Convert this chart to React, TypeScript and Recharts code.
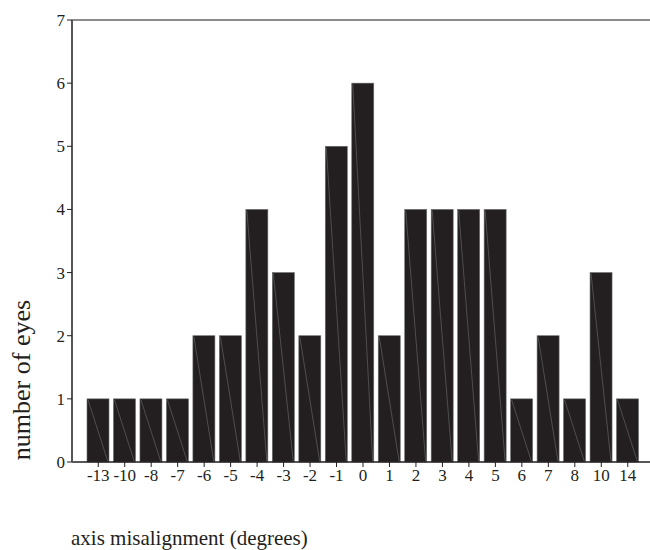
import React from 'react';
import { BarChart, Bar, XAxis, YAxis, ReferenceLine, Label } from 'recharts';

// misalignment categories (degrees) and eye counts
const angles = ['-13', '-10', '-8', '-7', '-6', '-5', '-4', '-3', '-2', '-1', '0', '1', '2', '3', '4', '5', '6', '7', '8', '10', '14'];
const eyes = [1, 1, 1, 1, 2, 2, 4, 3, 2, 5, 6, 2, 4, 4, 4, 4, 1, 2, 1, 3, 1];
const yTicks = [0, 1, 2, 3, 4, 5, 6, 7];

const chartData = angles.map((a, i) => ({ angle: a, count: eyes[i] }));

const FONT = '"Liberation Serif", "DejaVu Serif", serif';
const BAR_FILL = '#231f20';

// bar with the faint diagonal seam seen in the scanned figure
const SeamBar = (props: any) => {
  const { x, y, width, height } = props;
  if (!height || height <= 0) return null;
  return (
    <g>
      <rect x={x} y={y} width={width} height={height} fill={BAR_FILL} stroke="#6b6b6b" strokeWidth={0.6} />
      <line x1={x + 1} y1={y + 1} x2={x + width - 1} y2={y + height} stroke="#7a7a7a" strokeWidth={0.5} />
    </g>
  );
};

const App: React.FC = () => {
  return (
    <div style={{ position: 'absolute', left: 0, top: 0, width: 650, height: 550, background: '#fff' }}>
      <BarChart
        width={650}
        height={550}
        data={chartData}
        margin={{ top: 20, right: 0, bottom: 58, left: 0 }}
        barSize={22}
      >
        <ReferenceLine y={7} stroke="#8c8c8c" strokeWidth={2} />
        <XAxis
          dataKey="angle"
          height={30}
          padding={{ left: 13, right: 9 }}
          axisLine={{ stroke: '#231f20', strokeWidth: 1.5 }}
          tickLine={{ stroke: '#231f20' }}
          tickSize={5}
          tick={{ fill: '#231f20', fontSize: 17, fontFamily: FONT }}
          interval={0}
        >
          <Label
            content={() => (
              <text x={71} y={545} fill="#231f20" fontSize={21} fontFamily={FONT}>
                axis misalignment (degrees)
              </text>
            )}
          />
        </XAxis>
        <YAxis
          width={72}
          domain={[0, 7]}
          ticks={yTicks}
          allowDecimals={false}
          axisLine={{ stroke: '#555', strokeWidth: 2 }}
          tickLine={{ stroke: '#231f20' }}
          tickSize={5}
          tick={{ fill: '#231f20', fontSize: 17, fontFamily: FONT }}
        >
          <Label
            content={() => (
              <text
                x={21}
                y={380}
                fill="#231f20"
                fontSize={26}
                fontFamily={FONT}
                textAnchor="middle"
                dominantBaseline="central"
                transform="rotate(-90 21 380)"
              >
                number of eyes
              </text>
            )}
          />
        </YAxis>
        <Bar dataKey="count" fill={BAR_FILL} shape={SeamBar} isAnimationActive={false} />
      </BarChart>
    </div>
  );
};

export default App;
